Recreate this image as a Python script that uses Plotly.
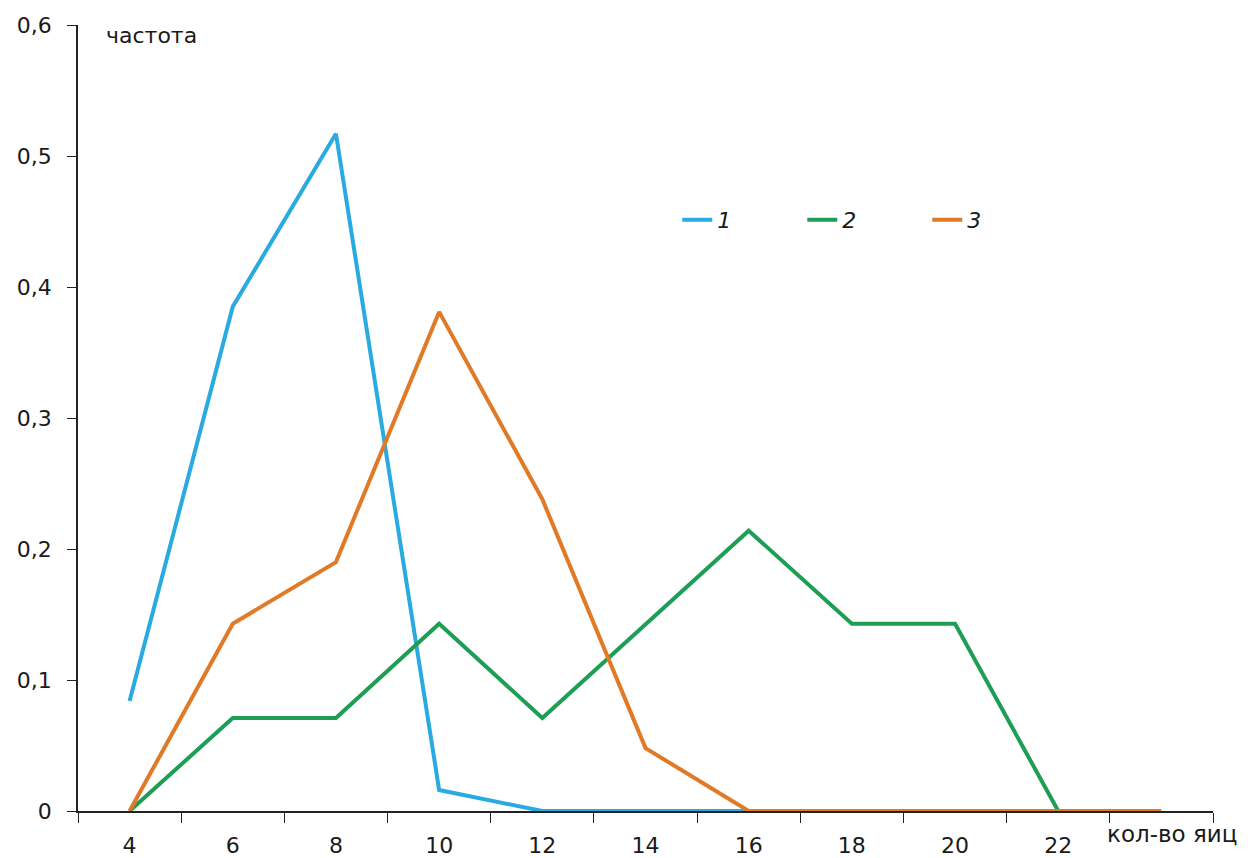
import plotly.graph_objects as go

# данные
categories = ["4", "6", "8", "10", "12", "14", "16", "18", "20", "22", "24"]
tick_labels = ["4", "6", "8", "10", "12", "14", "16", "18", "20", "22", ""]

series_1 = [0.084, 0.385, 0.517, 0.016, 0.0, 0.0, 0.0]
series_2 = [0.0, 0.071, 0.071, 0.143, 0.071, 0.143, 0.214, 0.143, 0.143, 0.0]
series_3 = [0.0, 0.143, 0.190, 0.381, 0.238, 0.048, 0.0, 0.0, 0.0, 0.0, 0.0]

names = ["1", "2", "3"]
colors = ["#29aae1", "#1e9e55", "#e07a26"]

fig = go.Figure()
for name, vals, col in zip(names, [series_1, series_2, series_3], colors):
    fig.add_trace(go.Scatter(
        x=categories[:len(vals)], y=vals, name=name, mode="lines",
        line=dict(color=col, width=4),
    ))

axis_color = "#222222"
# страница имеет отступ 8px, поэтому фигура чуть меньше окна
fig.update_layout(
    width=1245, height=850,
    margin=dict(l=70, r=40, t=17, b=47),
    paper_bgcolor="white", plot_bgcolor="white",
    font=dict(family="DejaVu Sans", size=22, color="#1a1a1a"),
    separators=", ",
    showlegend=True,
    legend=dict(
        orientation="h", x=0.528, y=0.752, xanchor="left", yanchor="middle",
        font=dict(size=22, style="italic"), entrywidth=80,
        bgcolor="rgba(0,0,0,0)",
    ),
    xaxis=dict(
        type="category", categoryorder="array", categoryarray=categories,
        range=[-0.5, 10.5], tickvals=categories, ticktext=tick_labels,
        tickson="boundaries", ticks="outside", ticklen=10, tickcolor=axis_color,
        showline=True, linecolor=axis_color, linewidth=1.5, automargin=False,
        showgrid=False, zeroline=False, ticklabelstandoff=14,
    ),
    yaxis=dict(
        range=[0, 0.6], dtick=0.1, ticks="outside", ticklen=9, tickcolor=axis_color,
        showline=True, linecolor=axis_color, linewidth=1.5, automargin=False,
        showgrid=False, zeroline=False, ticklabelstandoff=11,
    ),
    annotations=[
        dict(text="частота", xref="paper", yref="paper", x=0.023, y=0.987,
             xanchor="left", yanchor="middle", showarrow=False),
        dict(text="кол-во яиц", xref="paper", yref="paper", x=0.905, y=-0.029,
             xanchor="left", yanchor="middle", showarrow=False,
             font=dict(size=23)),
    ],
)

fig.write_html("out.html")
